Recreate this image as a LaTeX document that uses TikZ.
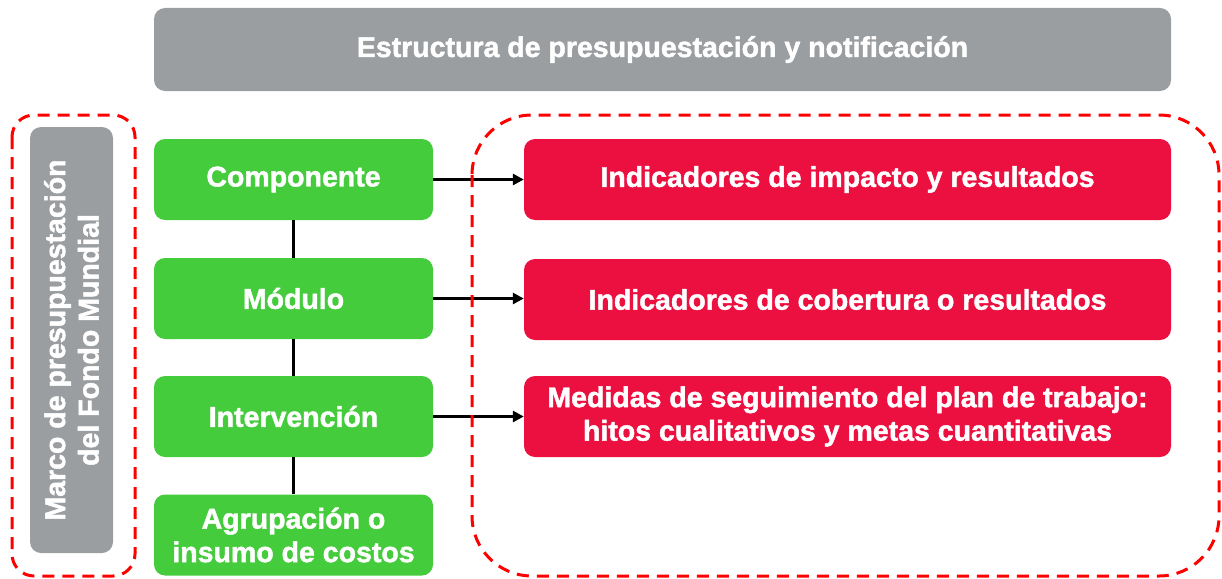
\documentclass[tikz,border=0pt]{standalone}
\usepackage{fontspec}
\setmainfont{Liberation Sans}
\newfontfamily\heavy[FakeBold=1.6]{Liberation Sans Bold}
\usetikzlibrary{arrows.meta}
\definecolor{boxgray}{RGB}{155,158,161}
\definecolor{boxgreen}{RGB}{68,204,60}
\definecolor{boxred}{RGB}{236,16,65}
\definecolor{dashred}{RGB}{255,0,0}
\tikzset{
  x=1pt, y=-1pt,
  base/.style={rounded corners=11pt, text=white, align=center, inner sep=0pt,
    font=\fontsize{28.5}{33.5}\selectfont\heavy},
  graybox/.style={base, fill=boxgray},
  greenbox/.style={base, fill=boxgreen, minimum width=279pt, minimum height=81pt},
  redbox/.style={base, fill=boxred, minimum width=647pt, minimum height=81pt},
  dashbox/.style={draw=dashred, line width=3pt, dash pattern=on 12pt off 8pt},
  link/.style={draw=black, line width=2.8pt},
  arrowlink/.style={link, -{Triangle[length=11pt,width=11pt]}}
}
\begin{document}
\begin{tikzpicture}
\useasboundingbox (0,0) rectangle (1222,578);
\node[graybox, minimum width=1017pt, minimum height=83pt] (title) at (662.5,49.5) {Estructura de presupuestación y notificación};
\node[graybox, minimum width=426pt, minimum height=83pt, rotate=90] (marco) at (71.5,340) {Marco de presupuestación\\del Fondo Mundial};
\node[greenbox] (g1) at (293.5,179.5) {Componente};
\node[greenbox] (g2) at (293.5,298.5) {Módulo};
\node[greenbox] (g3) at (293.5,416.5) {Intervención};
\node[greenbox] (g4) at (293.5,535) {Agrupación o\\insumo de costos};
\node[redbox] (r1) at (847.5,179.5) {Indicadores de impacto y resultados};
\node[redbox] (r2) at (847.5,299.5) {Indicadores de cobertura o resultados};
\node[redbox] (r3) at (847.5,416.5) {Medidas de seguimiento del plan de trabajo:\\hitos cualitativos y metas cuantitativas};
\draw[link] (g1.south) -- (g2.north);
\draw[link] (g2.south) -- (g3.north);
\draw[link] (g3.south) -- (g4.north);
\draw[arrowlink] (g1.east) -- (r1.west |- g1.east);
\draw[arrowlink] (g2.east) -- (r2.west |- g2.east);
\draw[arrowlink] (g3.east) -- (r3.west |- g3.east);
\draw[dashbox, rounded corners=22pt] (12,115) rectangle (135,576);
\draw[dashbox, rounded corners=60pt] (472,115) rectangle (1219,576);
\end{tikzpicture}
\end{document}
